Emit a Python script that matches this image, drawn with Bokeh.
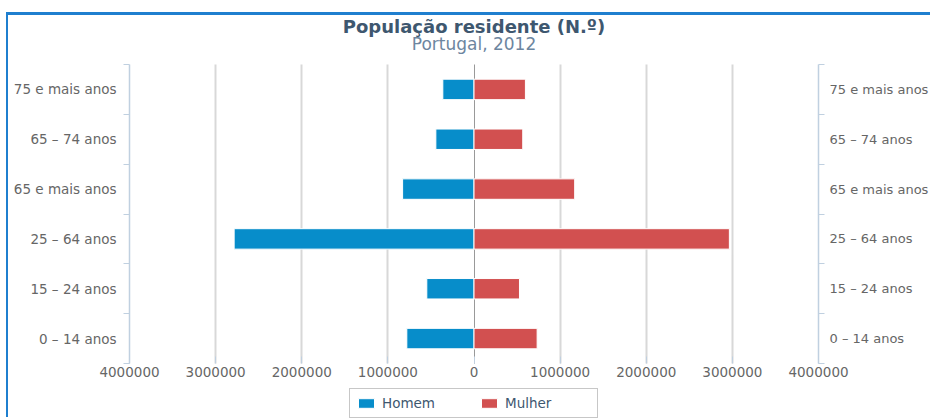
from bokeh.plotting import figure
from bokeh.models import (ColumnDataSource, FixedTicker, LinearAxis, Range1d, Grid,
                          Legend, LegendItem, Label)
from bokeh.embed import file_html
from bokeh.resources import INLINE

# ---- data (bottom to top) ----
categories = ["0 – 14 anos", "15 – 24 anos", "25 – 64 anos",
              "65 e mais anos", "65 – 74 anos", "75 e mais anos"]
homem = [780000, 548000, 2785000, 829000, 443000, 362000]
mulher = [733000, 528000, 2965000, 1169000, 566000, 597000]
x_ticks = [-4000000, -3000000, -2000000, -1000000, 0, 1000000, 2000000, 3000000, 4000000]
x_tick_labels = ["4000000", "3000000", "2000000", "1000000", "0",
                 "1000000", "2000000", "3000000", "4000000"]
series_names = ["Homem", "Mulher"]
title_text = "População residente (N.º)"
subtitle_text = "Portugal, 2012"

BLUE = "#078DCA"
RED = "#D25050"
LABEL = "#666666"
AXIS = "#C0D0E0"
FRAME = "#1F7FCF"
FONT = "DejaVu Sans"

# ---- layout (canvas pixels) ----
W, H = 924, 405
AX_L, AX_R = 121, 810          # where the value axis ends sit
CAT_TOP, CAT_BOT = 49, 348     # category area
TITLE_Y, SUBTITLE_Y = 11, 28.5 # text centres

n = len(categories)
ys = [i + 0.5 for i in range(n)]
x_lo, x_hi = x_ticks[0], x_ticks[-1]
ppx = (AX_R - AX_L) / (x_hi - x_lo)
ppy = (CAT_BOT - CAT_TOP) / n
x_start = x_lo - AX_L / ppx
x_end = x_hi + (W - AX_R) / ppx
y_end = n + CAT_TOP / ppy
y_start = -(H - CAT_BOT) / ppy


def canvas_y(cy):
    return n + (CAT_TOP - cy) / ppy


src = ColumnDataSource(dict(
    y=ys,
    cat=categories,
    homem=[-v for v in homem],
    mulher=mulher,
))

p = figure(width=W, height=H,
           x_range=Range1d(x_start, x_end), y_range=Range1d(y_start, y_end),
           output_backend="svg", toolbar_location=None,
           min_border_left=0, min_border_right=0,
           min_border_top=0, min_border_bottom=0,
           outline_line_color=None, background_fill_color="white",
           border_fill_color="white")
p.styles = {"margin-left": "6px", "margin-top": "12px",
            "border-left": f"2px solid {FRAME}", "border-top": f"3px solid {FRAME}"}

# titles
p.add_layout(Label(x=0, y=canvas_y(TITLE_Y), text=title_text,
                   text_align="center", text_baseline="middle",
                   text_font=FONT, text_font_size="18px", text_font_style="bold",
                   text_color="#3E576F"))
p.add_layout(Label(x=0, y=canvas_y(SUBTITLE_Y), text=subtitle_text,
                   text_align="center", text_baseline="middle",
                   text_font=FONT, text_font_size="17px",
                   text_color="#6D869F"))

# grid (only over the category area)
p.xgrid.ticker = FixedTicker(ticks=[t for t in x_ticks[1:-1] if t != 0])
p.xgrid.grid_line_color = "#D8D8D8"
p.xgrid.grid_line_width = 2
p.xgrid.cross_bounds = (0, n)
p.ygrid.visible = False
p.add_layout(Grid(dimension=0, ticker=FixedTicker(ticks=[0]), cross_bounds=(0, n),
                  grid_line_color="#999999", grid_line_width=1))

# value axis, drawn at the foot of the category area
xa = p.xaxis[0]
xa.fixed_location = 0
xa.bounds = (x_lo, x_hi)
xa.ticker = FixedTicker(ticks=x_ticks, minor_ticks=[])
xa.major_label_overrides = {t: l for t, l in zip(x_ticks, x_tick_labels)}
xa.axis_line_color = None
xa.major_tick_in = 7
xa.major_tick_out = 0
xa.major_tick_line_color = AXIS
xa.minor_tick_line_color = None
xa.major_label_standoff = 3
xa.major_label_text_font = FONT
xa.major_label_text_font_size = "13.5px"
xa.major_label_text_color = LABEL


def style_cat_axis(ax, loc, standoff, size):
    ax.fixed_location = loc
    ax.ticker = FixedTicker(ticks=ys, minor_ticks=list(range(n + 1)))
    ax.bounds = (0, n)
    ax.major_label_overrides = {y: c for y, c in zip(ys, categories)}
    ax.major_tick_line_color = None
    ax.major_tick_out = 0
    ax.major_tick_in = 0
    ax.minor_tick_out = 6
    ax.minor_tick_in = 0
    ax.minor_tick_line_color = AXIS
    ax.axis_line_color = AXIS
    ax.axis_line_width = 1.5
    ax.major_label_standoff = standoff
    ax.major_label_text_font = FONT
    ax.major_label_text_font_size = size
    ax.major_label_text_color = LABEL


style_cat_axis(p.yaxis[0], x_lo, 7, "13.5px")
ra = LinearAxis()
style_cat_axis(ra, x_hi, 5, "13px")
p.add_layout(ra, "right")

# bars
r_h = p.hbar(y="y", left=0, right="homem", height=0.41, source=src,
             fill_color=BLUE, line_color="white", line_width=1)
r_m = p.hbar(y="y", left=0, right="mulher", height=0.41, source=src,
             fill_color=RED, line_color="white", line_width=1)

# legend (inside the lower strip of the frame)
legend = Legend(items=[LegendItem(label=series_names[0], renderers=[r_h]),
                       LegendItem(label=series_names[1], renderers=[r_m])],
                orientation="horizontal", location=(AX_L + 220, 2),
                glyph_width=20, glyph_height=12, label_standoff=6,
                label_width=86, label_height=16, spacing=11, padding=6, margin=0,
                label_text_font=FONT, label_text_font_size="13.5px",
                label_text_color="#3E576F", border_line_color="#909090",
                border_line_width=1, background_fill_color="white",
                background_fill_alpha=1)
p.add_layout(legend, "center")

open("out.html", "w").write(file_html(p, INLINE))
